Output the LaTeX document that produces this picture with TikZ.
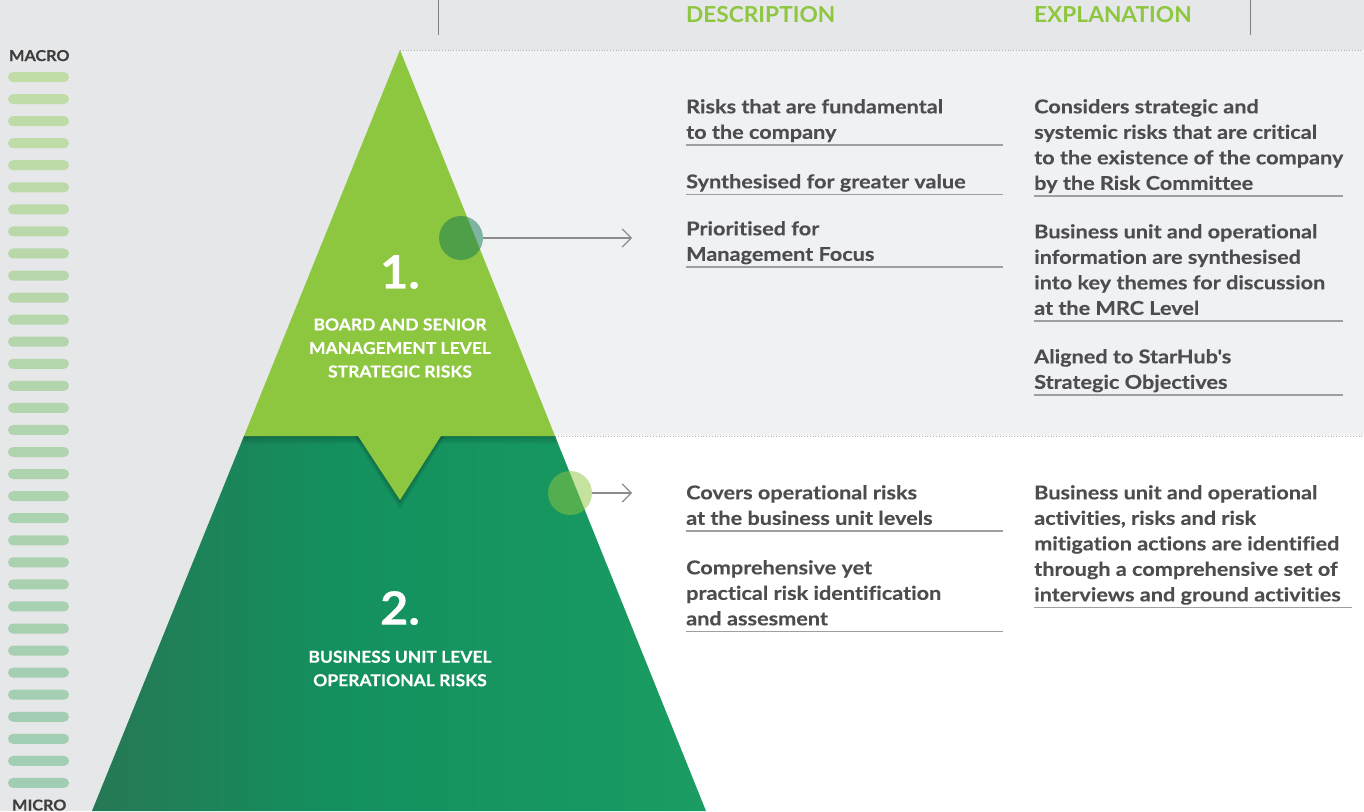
\documentclass[tikz,border=0pt]{standalone}
\usepackage{fontspec}
\setmainfont{Lato}[FakeStretch=1.08, BoldFeatures={FakeBold=0.2}]
\newfontfamily\bodyfam{Lato}[FakeStretch=1.14, Ligatures=NoCommon, BoldFeatures={FakeBold=0.3}]
\newfontfamily\headfam{Lato}[FakeStretch=1.03]
\newfontfamily\pyrfam{Lato}[FakeStretch=1.06, BoldFeatures={FakeBold=0.25}]
\usepackage{tikz, xcolor}
\usetikzlibrary{shapes,arrows.meta}

\definecolor{bgGray}{RGB}{230,231,232}
\definecolor{panelGray}{RGB}{240,241,242}
\definecolor{lightGreen}{RGB}{141,198,63}
\definecolor{pyrGreen}{RGB}{26,156,98}
\definecolor{pyrMid}{RGB}{19,144,94}
\definecolor{pyrDark}{RGB}{38,120,85}
\definecolor{circDark}{RGB}{16,121,81}
\definecolor{barTop}{RGB}{193,220,167}
\definecolor{barBot}{RGB}{160,205,180}
\definecolor{txtGray}{RGB}{77,77,79}
\definecolor{ruleGray}{RGB}{157,159,162}
\definecolor{arrowGray}{RGB}{140,140,140}

\pgfdeclarehorizontalshading{pyrshade}{100bp}{color(0bp)=(pyrDark); color(25bp)=(pyrDark); color(45bp)=(pyrMid); color(75bp)=(pyrGreen); color(100bp)=(pyrGreen)}

\newcommand\bodyfont{\bodyfam\fontsize{19}{25.5}\selectfont\bfseries}
\newcommand\headfont{\headfam\fontsize{22}{22}\selectfont\bfseries}
\newcommand\scalelabelfont{\fontsize{15}{15}\selectfont\bfseries}
\newcommand\numfont{\pyrfam\fontsize{46}{46}\selectfont\bfseries}
\newcommand\pyrfont{\pyrfam\fontsize{16.5}{23.5}\selectfont\bfseries}
\newcommand\lowstrut{\rule[-6pt]{0pt}{6pt}}

\begin{document}
\begin{tikzpicture}[x=1pt, y=-1pt]
\tikzstyle{bodytext}=[anchor=north west, inner sep=0pt, align=left, text=txtGray, font=\bodyfont]
\tikzstyle{headtext}=[anchor=base west, inner sep=0pt, text=lightGreen, font=\headfont]
\tikzstyle{scaletext}=[anchor=base west, inner sep=0pt, text=txtGray!80!black, font=\scalelabelfont]
\tikzstyle{pyrnum}=[inner sep=0pt, text=white, font=\numfont]
\tikzstyle{pyrtext}=[inner sep=0pt, text=white, align=center, font=\pyrfont]
\tikzstyle{ruleline}=[draw=ruleGray, line width=1.3pt]
\tikzstyle{dotline}=[draw=black!30, dotted, line width=0.8pt]
\tikzstyle{hotspot}=[circle, minimum size=44pt, inner sep=0pt, fill opacity=0.5]
\tikzstyle{drawstyle}=[draw=arrowGray, line width=1.2pt, -{Straight Barb[length=9pt, width=18pt]}]

\useasboundingbox (0,0) rectangle (1364,811);
\fill[bgGray] (0,0) rectangle (1364,811);
\fill[panelGray] (400,50) rectangle (1364,436);
\fill[white] (400,436) rectangle (1364,811);
\draw[dotline] (400,50) -- (1362,50);
\draw[dotline] (555,436) -- (1362,436);
\draw[black!50, line width=0.8pt] (438,0) -- (438,35);
\draw[black!50, line width=0.8pt] (1250,0) -- (1250,35);

\foreach \i in {0,...,32} {
  \pgfmathsetmacro\p{100*\i/32}
  \fill[barBot!\p!barTop, rounded corners=5pt] (8,72+22.06*\i) rectangle (69,82+22.06*\i);
}
\node[scaletext] (macro) at (9,61) {MACRO};
\node[scaletext] (micro) at (12,810.5) {MICRO};

\coordinate (apex) at (400,50);
\coordinate (bl) at (92,811);
\coordinate (br) at (706,811);
\coordinate (ml) at (244,436);
\coordinate (mr) at (555,436);
\shade[shading=pyrshade] (ml) -- (mr) -- (br) -- (bl) -- cycle;
\begin{scope}
\clip (ml) -- (mr) -- (br) -- (bl) -- cycle;
\foreach \k in {1,...,5}
  \fill[black, opacity=0.04] (92,436) rectangle (706,436+1.6*\k);
\foreach \k in {1,...,6}
  \fill[black!60!pyrDark, opacity=0.06] (358-0.8*\k,436) -- (441+0.8*\k,436) -- (400,500+1.6*\k) -- cycle;
\end{scope}
\fill[lightGreen] (apex) -- (mr) -- (ml) -- cycle;
\fill[lightGreen] (358,436) -- (441,436) -- (400,500) -- cycle;

\node[pyrnum] (N1) at (400,272) {1.};
\node[pyrtext] (L1) at (400,348) {BOARD AND SENIOR\\MANAGEMENT LEVEL\\STRATEGIC RISKS};
\node[pyrnum] (N2) at (400,608) {2.};
\node[pyrtext] (L2) at (400,668.5) {BUSINESS UNIT LEVEL\\OPERATIONAL RISKS};

\node[hotspot, fill=circDark] (C1) at (461,238) {};
\node[hotspot, fill=lightGreen] (C2) at (570,493) {};
\coordinate (A1) at (632,238);
\coordinate (A2) at (632,493);
\draw[drawstyle] (C1) -- (A1);
\draw[drawstyle] (C2) -- (A2);

\node[headtext] (H1) at (686,23) {DESCRIPTION};
\node[headtext] (H2) at (1034,23) {EXPLANATION};

\coordinate (Dend) at (1003,0);
\coordinate (Eend) at (1343,0);
\coordinate (Fend) at (1352,0);

\node[bodytext] (D1) at (686,99) {Risks that are fundamental\\to the company\lowstrut};
\node[bodytext] (D2) at (686,174) {Synthesised for greater value\lowstrut};
\node[bodytext] (D3) at (686,221) {Prioritised for\\Management Focus\lowstrut};
\node[bodytext] (D4) at (686,485) {Covers operational risks\\at the business unit levels\lowstrut};
\node[bodytext] (D5) at (686,560) {Comprehensive yet\\practical risk identification\\and assesment\lowstrut};
\draw[ruleline] (D1.south west) -- (D1.south west -| Dend);
\draw[ruleline] (D2.south west) -- (D2.south west -| Dend);
\draw[ruleline] (D3.south west) -- (D3.south west -| Dend);
\draw[ruleline] (D4.south west) -- (D4.south west -| Dend);
\draw[ruleline] (D5.south west) -- (D5.south west -| Dend);

\node[bodytext] (E1) at (1034,99) {Considers strategic and\\systemic risks that are critical\\to the existence of the company\\by the Risk Committee\lowstrut};
\node[bodytext] (E2) at (1034,224) {Business unit and operational\\information are synthesised\\into key themes for discussion\\at the MRC Level\lowstrut};
\node[bodytext] (E3) at (1034,349) {Aligned to StarHub's\\Strategic Objectives\lowstrut};
\node[bodytext] (E4) at (1034,485) {Business unit and operational\\activities, risks and risk\\mitigation actions are identified\\through a comprehensive set of\\interviews and ground activities\lowstrut};
\draw[ruleline] (E1.south west) -- (E1.south west -| Eend);
\draw[ruleline] (E2.south west) -- (E2.south west -| Eend);
\draw[ruleline] (E3.south west) -- (E3.south west -| Eend);
\draw[ruleline] (E4.south west) -- (E4.south west -| Fend);
\end{tikzpicture}
\end{document}
